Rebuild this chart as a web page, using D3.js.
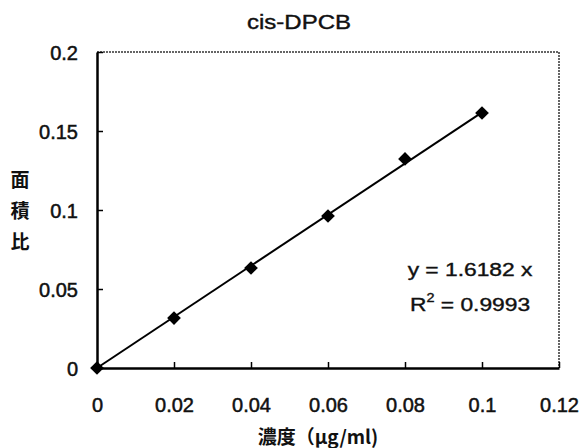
<!DOCTYPE html>
<html>
<head>
<meta charset="utf-8">
<script src="https://cdn.jsdelivr.net/npm/d3@7"></script>
<style>
  html, body { margin: 0; padding: 0; background: #fff; }
  svg { display: block; }
  text { fill: #111; }
</style>
</head>
<body>
<svg id="chart" width="580" height="448"></svg>
<script>
// Calibration data: concentration (µg/ml) vs. area ratio
const concentrations = [0, 0.02, 0.04, 0.06, 0.08, 0.1];
const areaRatios = [0, 0.0316, 0.0633, 0.0962, 0.1323, 0.1614];
const slope = 1.6182;
const xTicks = [0, 0.02, 0.04, 0.06, 0.08, 0.1, 0.12];
const yTicks = [0, 0.05, 0.1, 0.15, 0.2];
const titleText = "cis-DPCB";
const xTitle = "濃度（μg/ml)";
const yTitle = ["面", "積", "比"];

const svg = d3.select("#chart");
const m = { left: 97, right: 21, top: 52, bottom: 80 };
const W = 580, H = 448;
const x = d3.scaleLinear().domain([0, 0.12]).range([m.left, W - m.right]);
const y = d3.scaleLinear().domain([0, 0.2]).range([H - m.bottom, m.top]);
const font = "'Liberation Sans', Arial, sans-serif";
const cjk = "'Noto Sans CJK JP', sans-serif";

// Top and right frame (light, dotted)
svg.append("path")
  .attr("d", `M${x(0)},${y(0.2)}H${x(0.12)}V${y(0)}`)
  .attr("fill", "none").attr("stroke", "#333").attr("stroke-width", 1.5)
  .attr("stroke-dasharray", "2,1");

// Axes with inward ticks
const xAxis = svg.append("g").attr("transform", `translate(0,${y(0)})`)
  .call(d3.axisBottom(x).tickValues(xTicks).tickSize(-6).tickSizeOuter(0)
    .tickFormat(d => String(+d.toFixed(2))));
const yAxis = svg.append("g").attr("transform", `translate(${x(0)},0)`)
  .call(d3.axisLeft(y).tickValues(yTicks).tickSize(-6).tickSizeOuter(0)
    .tickFormat(d => String(+d.toFixed(2))));
[xAxis, yAxis].forEach(g => {
  g.select(".domain").attr("stroke", "#000").attr("stroke-width", 2.5);
  g.selectAll(".tick line").attr("stroke", "#000").attr("stroke-width", 1.5);
  g.selectAll(".tick text").attr("font-family", font).attr("font-size", 20)
    .attr("fill", "#111").attr("stroke", "#111").attr("stroke-width", 0.5);
});
xAxis.selectAll(".tick text").attr("y", 44).attr("dy", 0);
yAxis.selectAll(".tick text").attr("x", -19).attr("dy", "0.36em");

// Regression line
svg.append("line")
  .attr("x1", x(0)).attr("y1", y(0))
  .attr("x2", x(0.1)).attr("y2", y(slope * 0.1))
  .attr("stroke", "#000").attr("stroke-width", 2);

// Diamond markers
svg.append("g").selectAll("path").data(concentrations).join("path")
  .attr("transform", (d, i) => `translate(${x(d)},${y(areaRatios[i])})`)
  .attr("d", d3.symbol().type(d3.symbolDiamond2).size(120))
  .attr("fill", "#000");

// Title (slightly wide face)
svg.append("text").attr("transform", "translate(299,29) scale(1.2,1)")
  .attr("text-anchor", "middle")
  .attr("font-family", font).attr("font-size", 20)
  .attr("stroke", "#111").attr("stroke-width", 0.4).text(titleText);

// Axis titles
svg.append("text").attr("x", 318).attr("y", 444).attr("text-anchor", "middle")
  .attr("font-family", cjk).attr("font-weight", "bold").attr("font-size", 19).text(xTitle);
svg.append("g").selectAll("text").data(yTitle).join("text")
  .attr("x", 20).attr("y", (d, i) => 187 + i * 31).attr("text-anchor", "middle")
  .attr("font-family", cjk).attr("font-weight", "bold").attr("font-size", 19).text(d => d);

// Regression equation
svg.append("text").attr("transform", "translate(470,276) scale(1.2,1)")
  .attr("text-anchor", "middle")
  .attr("font-family", font).attr("font-size", 19)
  .attr("stroke", "#111").attr("stroke-width", 0.4).text(`y = ${slope} x`);
const r2 = svg.append("text").attr("transform", "translate(470,311) scale(1.2,1)")
  .attr("text-anchor", "middle")
  .attr("font-family", font).attr("font-size", 19)
  .attr("stroke", "#111").attr("stroke-width", 0.4);
r2.append("tspan").text("R");
r2.append("tspan").attr("font-size", 12).attr("dy", -9).text("2");
r2.append("tspan").attr("dy", 9).text(" = 0.9993");
</script>
</body>
</html>
